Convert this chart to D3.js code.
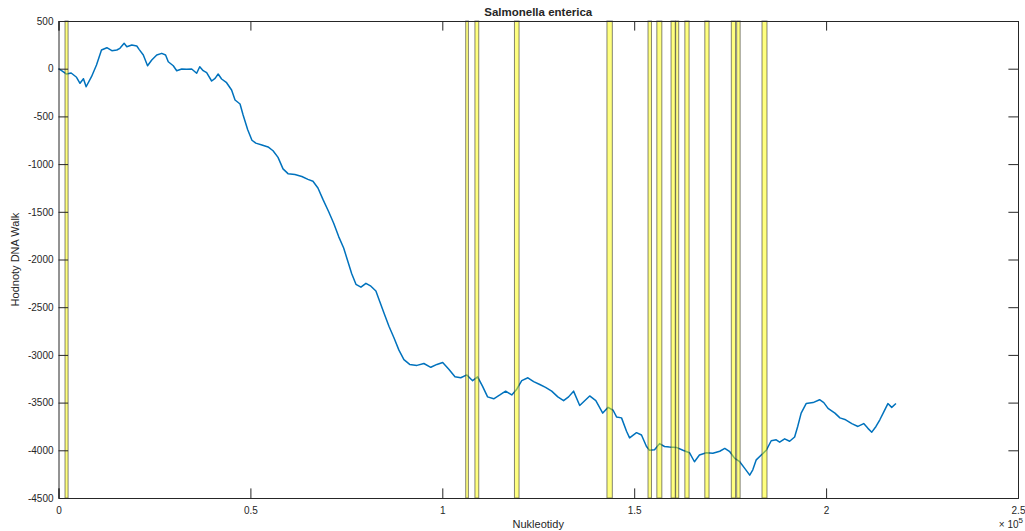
<!DOCTYPE html>
<html>
<head>
<meta charset="utf-8">
<script src="https://cdn.jsdelivr.net/npm/d3@7"></script>
<style>
  body { margin: 0; background: #fff; }
  text { font-family: "Liberation Sans", Arial, sans-serif; fill: #262626; }
</style>
</head>
<body>
<div id="viz"></div>
<script>
// walk values (nucleotide position, walk value)
var walkPos = [0, 900, 2100, 3300, 4700, 5600, 6500, 7200, 8600, 9900,
  11200, 12600, 13900, 15200, 16000, 17100, 17800, 19100, 20400, 21000,
  22100, 23200, 24300, 25600, 26900, 27900, 28600, 29900, 30800, 32100,
  33400, 34700, 36000, 36800, 37700, 38600, 39900, 40800, 41600, 42500,
  43800, 45100, 46000, 47300, 48100, 49300, 50400, 51400, 53000, 54600,
  55900, 57200, 58500, 59800, 61600, 63400, 65000, 66300, 67600, 68900,
  70400, 71700, 73000, 74300, 75400, 76400, 77500, 78800, 80100, 81400,
  82700, 83700, 84800, 86100, 87400, 88700, 90000, 91500, 93400, 95200,
  97000, 98600, 100100, 101700, 103300, 104800, 106400, 107900, 109200, 110500,
  111800, 113400, 115000, 116500, 118100, 119400, 120700, 122300, 123800, 125400,
  126900, 128500, 130100, 131600, 132900, 134200, 135800, 137100, 138400, 140000,
  141800, 143200, 144500, 145400, 146700, 148000, 148800, 150600, 151900, 153200,
  154000, 155300, 156600, 157900, 159200, 161000, 162700, 164400, 165700, 167000,
  168800, 170500, 172300, 173600, 174900, 176200, 177500, 178800, 180100, 180900,
  181800, 183100, 184400, 185700, 187000, 187900, 189200, 190500, 191800, 192600,
  193500, 194800, 196600, 198300, 199400, 200500, 202300, 203600, 205100, 206700,
  208300, 209800, 210900, 211900, 213000, 214000, 215000, 216100, 217100, 218200]
var walkVal = [0, -24, -56, -45, -90, -153, -105, -189, -84, 39,
  196, 220, 189, 196, 214, 266, 231, 248, 238, 203,
  144, 31, 91, 144, 161, 144, 73, 31, -21, -3,
  -6, -3, -48, 21, -21, -42, -129, -101, -56, -108,
  -147, -223, -328, -370, -485, -640, -750, -780, -800, -820,
  -860, -930, -1050, -1100, -1110, -1130, -1160, -1180, -1250, -1370,
  -1500, -1620, -1760, -1880, -2020, -2150, -2260, -2290, -2250, -2280,
  -2330, -2440, -2560, -2700, -2820, -2950, -3050, -3100, -3110, -3090,
  -3130, -3100, -3080, -3150, -3230, -3240, -3210, -3270, -3230, -3330,
  -3440, -3460, -3420, -3380, -3420, -3360, -3270, -3240, -3280, -3310,
  -3340, -3380, -3440, -3480, -3440, -3380, -3530, -3480, -3430, -3480,
  -3610, -3550, -3580, -3650, -3660, -3800, -3870, -3815, -3840, -3960,
  -4000, -3995, -3930, -3960, -3965, -3970, -4000, -4025, -4120, -4050,
  -4025, -4030, -4010, -3980, -4015, -4085, -4120, -4190, -4260, -4205,
  -4100, -4050, -4000, -3900, -3890, -3915, -3880, -3905, -3860, -3750,
  -3610, -3510, -3500, -3470, -3500, -3560, -3610, -3660, -3680, -3720,
  -3750, -3720, -3770, -3810, -3750, -3680, -3600, -3510, -3550, -3510]

// highlighted regions (start / end nucleotide)
var regStart = [1700, 106100, 108500, 118800, 142900, 153600, 155900, 159600, 160800, 163200, 168400, 175300, 176700, 183300]
var regEnd   = [2500, 106800, 109500, 120000, 144300, 154500, 157200, 160700, 161600, 164300, 169500, 176400, 177600, 184600]

var xTicks = [0, 50000, 100000, 150000, 200000, 250000]
var xTickLabels = ["0", "0.5", "1", "1.5", "2", "2.5"]
var yTicks = [500, 0, -500, -1000, -1500, -2000, -2500, -3000, -3500, -4000, -4500]

var margin = {top: 21, right: 7, bottom: 33, left: 58.5},
    width = 1025 - margin.left - margin.right,
    height = 531 - margin.top - margin.bottom;

var svg = d3.select("#viz")
  .append("svg")
    .attr("width", 1025)
    .attr("height", 531)
  .append("g")
    .attr("transform", "translate(" + margin.left + "," + margin.top + ")");

var x = d3.scaleLinear().domain([0, 250000]).range([0, width])
var y = d3.scaleLinear().domain([-4500, 500]).range([height, 0])

var data = walkPos.map(function(p, i) { return {p: p, v: walkVal[i]} })

// the walk line
svg.append("path")
  .datum(data)
  .attr("fill", "none")
  .attr("stroke", "#0072BD")
  .attr("stroke-width", 1.5)
  .attr("stroke-linejoin", "round")
  .attr("d", d3.line().x(function(d) { return x(d.p) }).y(function(d) { return y(d.v) }))

// yellow regions on top, semi transparent
svg.append("g").selectAll("rect")
  .data(regStart)
  .enter().append("rect")
    .attr("x", function(d) { return x(d) })
    .attr("y", y(500))
    .attr("width", function(d, i) { return x(regEnd[i]) - x(d) })
    .attr("height", y(-4500) - y(500))
    .attr("fill", "#ffff00")
    .attr("fill-opacity", 0.5)
    .attr("stroke", "#333")
    .attr("stroke-opacity", 0.6)
    .attr("stroke-width", 1)

// axes, MATLAB style with inward ticks on all sides
var tl = 9.6
svg.append("g")
  .attr("transform", "translate(0," + height + ")")
  .call(d3.axisBottom(x).tickValues(xTicks).tickFormat(function(d, i) { return xTickLabels[i] }).tickSize(-tl).tickPadding(9))
svg.append("g")
  .call(d3.axisTop(x).tickValues(xTicks).tickFormat("").tickSize(-tl))
svg.append("g")
  .call(d3.axisLeft(y).tickValues(yTicks).tickFormat(function(d) { return String(d) }).tickSize(-tl).tickPadding(5))
svg.append("g")
  .attr("transform", "translate(" + width + ",0)")
  .call(d3.axisRight(y).tickValues(yTicks).tickFormat("").tickSize(-tl))

svg.selectAll(".domain, .tick line").attr("stroke", "#262626")
svg.selectAll(".tick text")
  .style("font-size", "10px")
  .style("font-family", "Liberation Sans, Arial, sans-serif")
  .attr("fill", "#262626")

// title and labels
svg.append("text")
  .attr("x", width / 2).attr("y", -5.5)
  .attr("text-anchor", "middle")
  .style("font-size", "11.5px").style("font-weight", "bold")
  .text("Salmonella enterica")

svg.append("text")
  .attr("x", width / 2).attr("y", height + 30)
  .attr("text-anchor", "middle")
  .style("font-size", "11px")
  .text("Nukleotidy")

svg.append("text")
  .attr("transform", "rotate(-90)")
  .attr("x", -height / 2).attr("y", -40)
  .attr("text-anchor", "middle")
  .style("font-size", "11px")
  .text("Hodnoty DNA Walk")

var ex = svg.append("text")
  .attr("x", width + 5).attr("y", height + 30)
  .attr("text-anchor", "end")
  .style("font-size", "10px")
ex.append("tspan").text("\u00d7 10")
ex.append("tspan").attr("dy", -5).style("font-size", "8px").text("5")
</script>
</body>
</html>
